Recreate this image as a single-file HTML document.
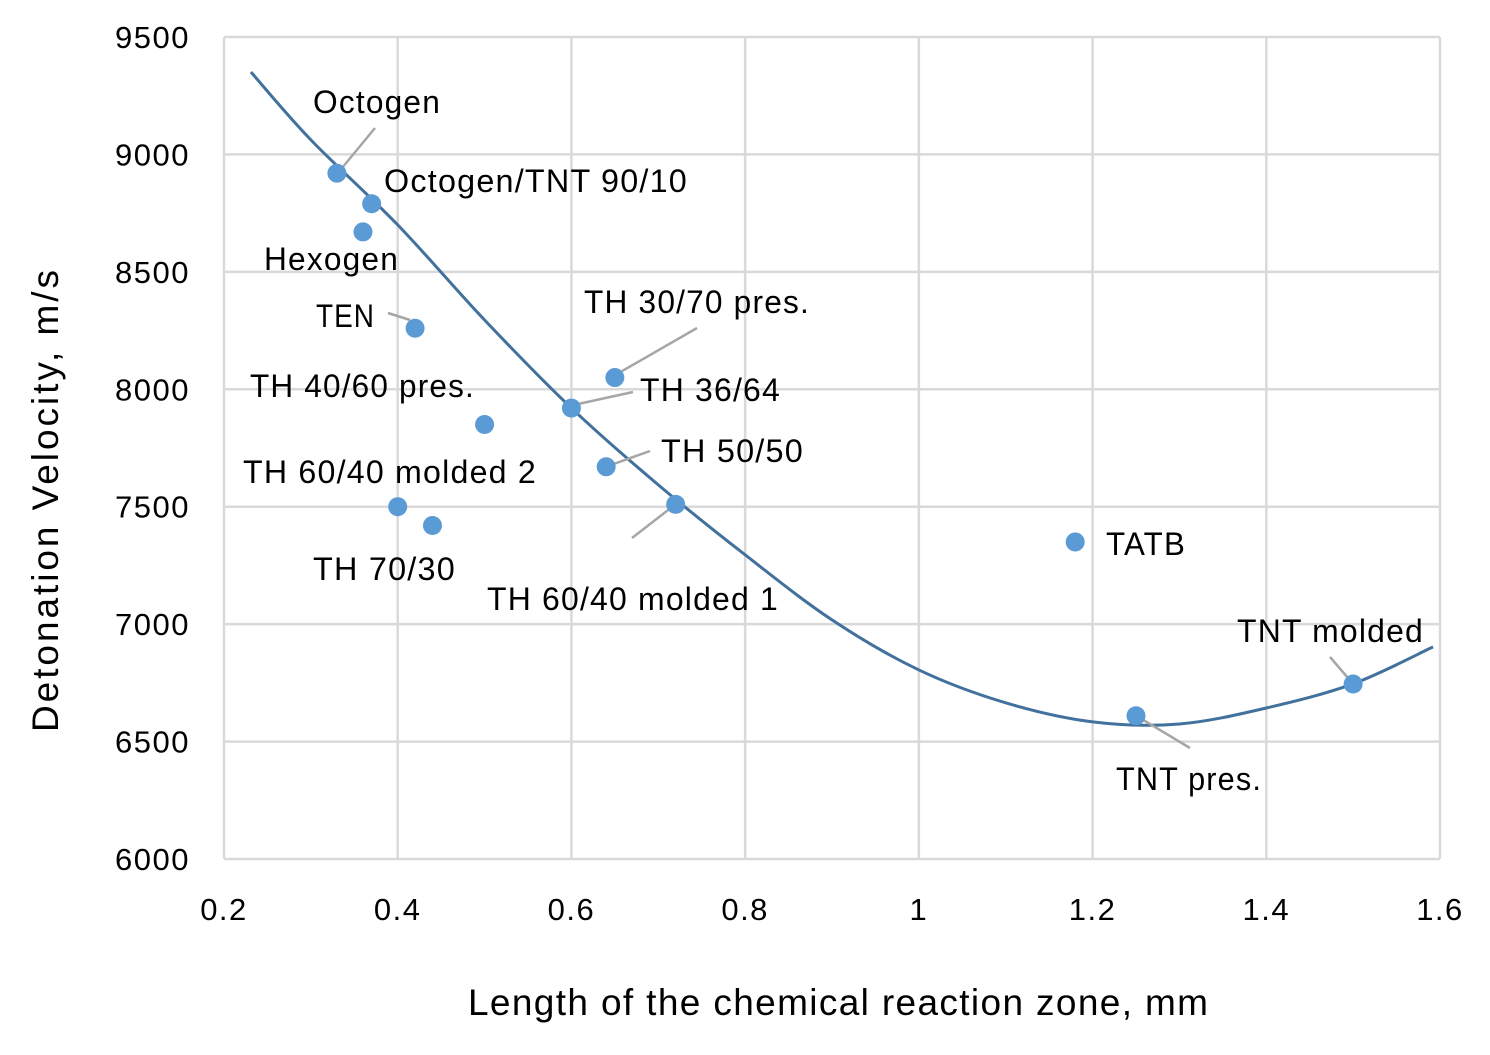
<!DOCTYPE html>
<html><head><meta charset="utf-8"><style>
body{margin:0;background:#fff}
svg text{font-family:"Liberation Sans",sans-serif;fill:#000}
</style></head><body>
<svg width="1490" height="1050" id="chart">
<g id="grid"></g>
<g id="ticks"></g>
<path id="trend" fill="none" stroke="#41719c" stroke-width="3"/>
<g id="leaders" stroke="#a6a6a6" stroke-width="2.5"></g>
<g id="pts"></g>
<g id="labels" font-size="32" letter-spacing="1.2"></g>
<text x="58" y="501" font-size="37" text-anchor="middle" textLength="462" lengthAdjust="spacing" transform="rotate(-90 58 501)">Detonation Velocity, m/s</text>
<text x="838" y="1015" font-size="37" text-anchor="middle" textLength="740" lengthAdjust="spacing">Length of the chemical reaction zone,  mm</text>
</svg>
<script>
const xTicks=[0.2,0.4,0.6,0.8,1,1.2,1.4,1.6];
const xTickLabels=["0.2","0.4","0.6","0.8","1","1.2","1.4","1.6"];
const yTicks=[6000,6500,7000,7500,8000,8500,9000,9500];
const names=["Octogen","Octogen/TNT 90/10","Hexogen","TEN","TH 40/60 pres.","TH 30/70 pres.","TH 36/64","TH 50/50","TH 60/40 molded 1","TH 60/40 molded 2","TH 70/30","TATB","TNT pres.","TNT molded"];
const xVals=[0.33,0.37,0.36,0.42,0.50,0.60,0.65,0.64,0.72,0.40,0.44,1.18,1.25,1.50];
const yVals=[8920,8790,8670,8260,7850,7920,8050,7670,7510,7500,7420,7350,6610,6745];
const trendX=[0.231,0.3,0.4,0.5,0.6,0.7,0.8,0.9,1.0,1.1,1.2,1.3,1.4,1.5,1.592];
const trendY=[9351,9062,8700,8295,7920,7593,7295,7018,6805,6665,6584,6575,6643,6746,6903];
const X0=224,X1=1440,Y0=859,Y1=37;
const sx=v=>X0+(v-0.2)/1.4*(X1-X0);
const sy=v=>Y0-(v-6000)/3500*(Y0-Y1);
const NS="http://www.w3.org/2000/svg";
function mk(t,p,a){const e=document.createElementNS(NS,t);for(const k in a)e.setAttribute(k,a[k]);p.appendChild(e);return e;}
const grid=document.getElementById('grid'),ticks=document.getElementById('ticks');
xTicks.forEach((v,i)=>{const l=mk('line',grid,{x1:sx(v),x2:sx(v),y1:Y1,y2:Y0,stroke:'#d9d9d9','stroke-width':2.5});

const t=mk('text',ticks,{x:sx(v),y:920,'font-size':31,'letter-spacing':1.5,'text-anchor':'middle'});t.textContent=xTickLabels[i];
});
yTicks.forEach(v=>{const l=mk('line',grid,{x1:X0,x2:X1,y1:sy(v),y2:sy(v),stroke:'#d9d9d9','stroke-width':2.5});

const t=mk('text',ticks,{x:190,y:sy(v)+11,'font-size':31,'letter-spacing':1.5,'text-anchor':'end'});t.textContent=v;
});
const P=trendX.map((x,i)=>[sx(x),sy(trendY[i])]);
let d=`M${P[0][0]},${P[0][1]}`;
for(let i=0;i<P.length-1;i++){const p0=P[i-1]||P[i],p1=P[i],p2=P[i+1],p3=P[i+2]||P[i+1];
d+=` C${p1[0]+(p2[0]-p0[0])/6},${p1[1]+(p2[1]-p0[1])/6} ${p2[0]-(p3[0]-p1[0])/6},${p2[1]-(p3[1]-p1[1])/6} ${p2[0]},${p2[1]}`;}
document.getElementById('trend').setAttribute('d',d);
const pts=document.getElementById('pts');
xVals.forEach((x,i)=>{const c=mk('circle',pts,{cx:sx(x),cy:sy(yVals[i]),r:9.5,fill:'#5b9bd5'});
});
const lab=[["Octogen",313,113,128],["Octogen/TNT 90/10",384,192,304],["Hexogen",264,270,135],["TEN",316,327,59],["TH 40/60 pres.",250,397,225],["TH 30/70 pres.",584,313,226],["TH 36/64",640,401,141],["TH 50/50",661,462,143],["TH 60/40 molded 2",243,483,294],["TH 70/30",313,580,143],["TH 60/40 molded 1",487,610,292],["TATB",1106,555,80],["TNT molded",1237,642,187],["TNT pres.",1116,790,146]];
const lg=document.getElementById('labels');
lab.forEach(a=>{const t=mk('text',lg,{x:a[1],y:a[2],textLength:a[3],lengthAdjust:'spacingAndGlyphs'});t.textContent=a[0];
});
const ld=[[375,128,342,168],[388,313,410,320],[697,328,610,378],[633,392,578,404],[650,451,608,466],[632,538,672,507],[1330,657,1348,678],[1190,748,1140,718]];
const lgl=document.getElementById('leaders');
ld.forEach(a=>{const l=mk('line',lgl,{x1:a[0],y1:a[1],x2:a[2],y2:a[3]});
});
</script>
</body></html>
